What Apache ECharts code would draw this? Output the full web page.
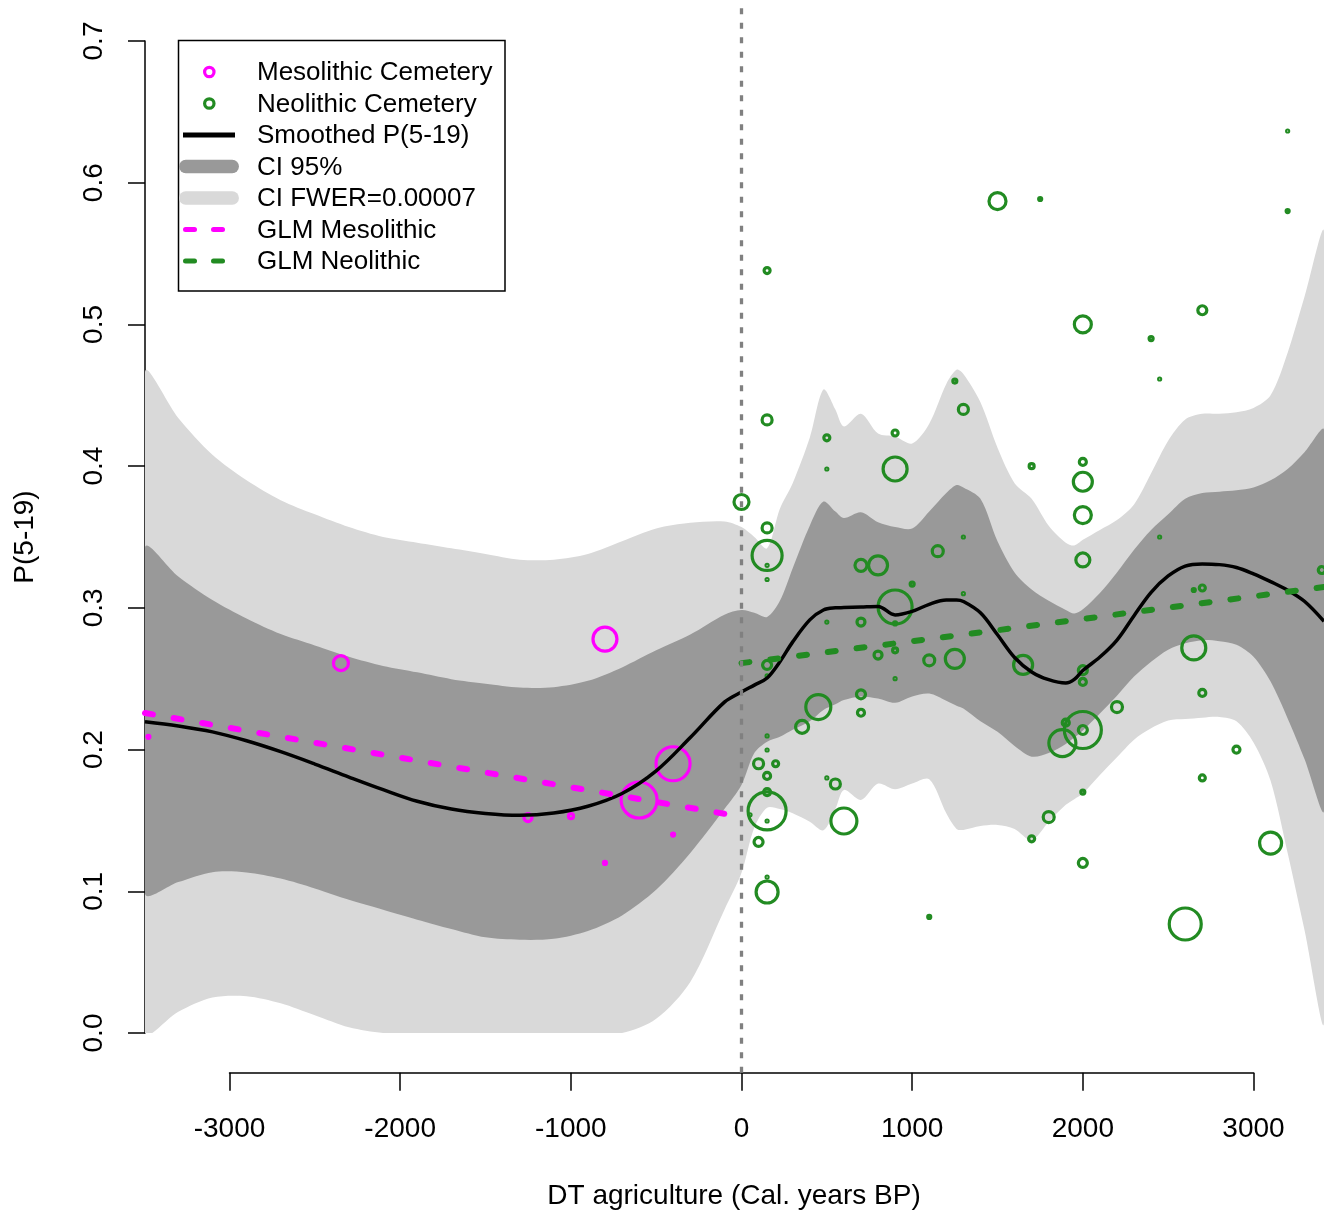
<!DOCTYPE html>
<html>
<head>
<meta charset="utf-8">
<script src="https://cdn.jsdelivr.net/npm/echarts@6/dist/echarts.min.js"></script>
<style>
html,body{margin:0;padding:0;background:#fff;}
#chart{width:1324px;height:1212px;}
</style>
</head>
<body>
<div id="chart"></div>
<script>
// ---------- DATA ----------
const bandX = [-3495, -3300, -3100, -2900, -2700, -2500, -2300, -2100, -1900, -1700, -1500, -1300, -1100, -900, -700, -500, -300, -100, 0,
  75, 150, 225, 300, 400, 480, 550, 600, 700, 800, 900, 1000, 1100, 1200, 1260, 1300, 1400, 1500, 1600, 1700, 1800, 1900, 1950, 2000,
  2100, 2200, 2300, 2400, 2500, 2600, 2700, 2800, 2900, 3000, 3100, 3200, 3300, 3413];

const smoothP = [0.2197, 0.2167, 0.2125, 0.2062, 0.1985, 0.1898, 0.1806, 0.1717, 0.1635, 0.1580, 0.1549, 0.1536, 0.1552, 0.1600, 0.1690, 0.1850, 0.2085, 0.2335, 0.2406,
  0.2455, 0.2505, 0.2620, 0.2760, 0.2915, 0.2985, 0.3000, 0.3002, 0.3006, 0.3010, 0.2950, 0.2975, 0.3025, 0.3055, 0.3055, 0.3045, 0.2965, 0.2810, 0.2650, 0.2548, 0.2493, 0.2470, 0.2495, 0.2558,
  0.2653, 0.2773, 0.2945, 0.3110, 0.3225, 0.3295, 0.3310, 0.3305, 0.3285, 0.3240, 0.3185, 0.3125, 0.3045, 0.2905];

const ci95Upper = [0.3425, 0.3222, 0.3055, 0.2925, 0.2815, 0.2735, 0.2655, 0.2590, 0.2545, 0.2497, 0.2465, 0.2438, 0.2440, 0.2485, 0.2580, 0.2700, 0.2812, 0.2952, 0.2985,
  0.2965, 0.2936, 0.3050, 0.3280, 0.3580, 0.3750, 0.3680, 0.3634, 0.3675, 0.3604, 0.3570, 0.3560, 0.3680, 0.3810, 0.3867, 0.3850, 0.3770, 0.3470, 0.3250, 0.3130, 0.3050, 0.2985, 0.2960, 0.2990,
  0.3105, 0.3250, 0.3410, 0.3550, 0.3660, 0.3770, 0.3810, 0.3820, 0.3830, 0.3850, 0.3900, 0.3980, 0.4100, 0.4255];

const ci95Lower = [0.0984, 0.1065, 0.1135, 0.1133, 0.1090, 0.1020, 0.0940, 0.0870, 0.0800, 0.0734, 0.0675, 0.0658, 0.0665, 0.0720, 0.0830, 0.1010, 0.1270, 0.1580, 0.1750,
  0.1975, 0.2055, 0.2090, 0.2140, 0.2200, 0.2280, 0.2320, 0.2350, 0.2375, 0.2360, 0.2330, 0.2375, 0.2395, 0.2345, 0.2310, 0.2290, 0.2200, 0.2125, 0.2025, 0.1950, 0.1975, 0.2040, 0.2085, 0.2135,
  0.2255, 0.2380, 0.2515, 0.2620, 0.2705, 0.2750, 0.2772, 0.2765, 0.2740, 0.2655, 0.2480, 0.2220, 0.1930, 0.1570];

const fwerUpper = [0.466, 0.434, 0.408, 0.390, 0.376, 0.366, 0.357, 0.350, 0.346, 0.342, 0.338, 0.334, 0.334, 0.338, 0.347, 0.356, 0.360, 0.361, 0.357,
  0.350, 0.342, 0.370, 0.388, 0.420, 0.454, 0.440, 0.428, 0.437, 0.423, 0.421, 0.416, 0.430, 0.458, 0.468, 0.465, 0.445, 0.413, 0.388, 0.377, 0.358, 0.346, 0.344, 0.348,
  0.355, 0.362, 0.373, 0.395, 0.418, 0.433, 0.437, 0.437, 0.438, 0.441, 0.450, 0.480, 0.520, 0.565];

const fwerLower = [0.000, 0.015, 0.025, 0.026, 0.021, 0.0125, 0.004, 0.000, 0.000, 0.000, 0.000, 0.000, 0.000, 0.000, 0.000, 0.010, 0.036, 0.087, 0.113,
  0.145, 0.159, 0.158, 0.155, 0.149, 0.143, 0.158, 0.1715, 0.1644, 0.176, 0.172, 0.176, 0.179, 0.155, 0.144, 0.1433, 0.146, 0.1468, 0.144, 0.136, 0.149, 0.161, 0.165, 0.169,
  0.182, 0.1945, 0.207, 0.215, 0.2205, 0.2215, 0.2225, 0.223, 0.220, 0.205, 0.178, 0.127, 0.072, 0.008];

const glmMesoX = [-3495, -1700, -90];
const glmMesoY = [0.2258, 0.1880, 0.1545];
const glmNeoX = [0, 1500, 3413];
const glmNeoY = [0.2610, 0.2842, 0.3147];

const agricultureOnset = 0;

// Mesolithic cemeteries: x, P(5-19), relative weight (bubble radius units)
const mesoX = [-2347, -800, -401, -600, -1251, -999, -800, -401, -3475];
const mesoY = [0.261, 0.278, 0.190, 0.1644, 0.152, 0.153, 0.120, 0.140, 0.209];
const mesoW = [9, 13.5, 18.5, 19.5, 5.5, 4, 3, 3, 3];

// Neolithic cemeteries
const neoX = [150, 150, 0, 150, 150, 150, 150, 500, 500, 900, 900, 1250, 1300, 700, 800, 1150, 1300, 1000, 1300, 900,
  500, 700, 900, 150, 150, 800, 900, 900, 1100, 1250, 700, 700, 450, 355, 150, 150, 100, 200, 150, 500,
  550, 150, 150, 150, 600, 100, 150, 150, 1100, 50, 1500, 1750, 3200, 3200, 2000, 2700, 2400, 2450, 1700, 2000,
  2000, 2000, 2000, 2450, 2700, 2650, 3400, 1650, 2000, 2000, 2650, 2700, 2200, 2000, 1880, 1900, 2000, 2900, 2700, 2000,
  1800, 1700, 2000, 3100, 2600];
const neoY = [0.538, 0.4326, 0.3747, 0.3564, 0.337, 0.330, 0.320, 0.420, 0.398, 0.4234, 0.398, 0.460, 0.440, 0.330, 0.330, 0.340, 0.350, 0.3168, 0.310, 0.3006,
  0.290, 0.290, 0.289, 0.2597, 0.252, 0.2667, 0.270, 0.250, 0.263, 0.264, 0.239, 0.226, 0.230, 0.216, 0.2096, 0.1997, 0.190, 0.190, 0.1814, 0.180,
  0.1757, 0.170, 0.1567, 0.1496, 0.1496, 0.1348, 0.110, 0.0995, 0.0819, 0.154, 0.587, 0.5885, 0.6365, 0.580, 0.500, 0.510, 0.490, 0.4615, 0.400, 0.403,
  0.389, 0.3655, 0.3338, 0.350, 0.314, 0.3126, 0.3267, 0.2597, 0.256, 0.2477, 0.2717, 0.240, 0.230, 0.2138, 0.2046, 0.219, 0.2138, 0.200, 0.180, 0.170,
  0.1524, 0.137, 0.120, 0.134, 0.0769];
const neoW = [4.5, 6.5, 9, 6.5, 16.5, 2.5, 2.5, 4.5, 2.5, 4.5, 13.5, 3.5, 6.5, 7.5, 11, 7, 2.5, 3.5, 2.5, 18.5,
  2.5, 5.5, 3, 6, 2.5, 5.5, 4, 2.5, 7, 11, 6, 5, 14, 8, 2.5, 2.5, 6.5, 4.5, 5, 2.5,
  6.5, 5, 20.5, 2.5, 14.5, 6, 2.5, 12.5, 3, 2.5, 10, 3, 2.5, 3, 10, 6, 3.5, 2.5, 4, 5,
  11, 10, 8.5, 2.5, 4.5, 3, 5, 11, 6, 5, 13.5, 5, 7, 20, 15, 5, 6, 5, 4.5, 3.5,
  7, 4.5, 6, 12.5, 17.5];

const legendLabels = ['Mesolithic Cemetery', 'Neolithic Cemetery', 'Smoothed P(5-19)', 'CI 95%', 'CI FWER=0.00007', 'GLM Mesolithic', 'GLM Neolithic'];
const xTitle = 'DT agriculture (Cal. years BP)';
const yTitle = 'P(5-19)';

// ---------- STYLE ----------
const FONT = '"Liberation Sans", Arial, Helvetica, sans-serif';
const MAGENTA = '#FF00FF';
const GREEN = '#228B22';
const DARK = '#999999';
const LIGHT = '#D9D9D9';

function bandSeries(name, upper, lower, color) {
  return {
    name: name, type: 'custom', xAxisIndex: 0, yAxisIndex: 0, silent: true, clip: true,
    data: [[bandX[0], lower[0]]],
    renderItem: function (params, api) {
      const pts = [];
      for (let i = 0; i < bandX.length; i++) pts.push(api.coord([bandX[i], upper[i]]));
      for (let i = bandX.length - 1; i >= 0; i--) pts.push(api.coord([bandX[i], lower[i]]));
      return { type: 'polygon', shape: { points: pts, smooth: 0.3 }, style: { fill: color, stroke: null } };
    }
  };
}

const bubbleSize = function (d) { return Math.max(2 * d[2] - 3, 1.5); };

const rowY = i => 73 + i * 31.5;
const legendEls = [
  { type: 'rect', z: 100, shape: { x: 178.5, y: 40.5, width: 326.5, height: 250.5 }, style: { fill: '#fff', stroke: '#000', lineWidth: 1.5 } },
  { type: 'circle', z: 101, shape: { cx: 209.3, cy: rowY(0) - 1, r: 4.7 }, style: { fill: 'none', stroke: MAGENTA, lineWidth: 3.2 } },
  { type: 'circle', z: 101, shape: { cx: 209.3, cy: rowY(1) - 1, r: 4.7 }, style: { fill: 'none', stroke: GREEN, lineWidth: 3.2 } },
  { type: 'line', z: 101, shape: { x1: 183, y1: rowY(2) - 1, x2: 235, y2: rowY(2) - 1 }, style: { stroke: '#000', lineWidth: 5 } },
  { type: 'line', z: 101, shape: { x1: 185.7, y1: rowY(3) - 1, x2: 232.3, y2: rowY(3) - 1 }, style: { stroke: DARK, lineWidth: 13.3, lineCap: 'round' } },
  { type: 'line', z: 101, shape: { x1: 185.7, y1: rowY(4) - 1, x2: 232.3, y2: rowY(4) - 1 }, style: { stroke: LIGHT, lineWidth: 13.3, lineCap: 'round' } },
  { type: 'line', z: 101, shape: { x1: 185.5, y1: rowY(5) - 1, x2: 194.5, y2: rowY(5) - 1 }, style: { stroke: MAGENTA, lineWidth: 5, lineCap: 'round' } },
  { type: 'line', z: 101, shape: { x1: 213.5, y1: rowY(5) - 1, x2: 222.5, y2: rowY(5) - 1 }, style: { stroke: MAGENTA, lineWidth: 5, lineCap: 'round' } },
  { type: 'line', z: 101, shape: { x1: 185.5, y1: rowY(6) - 1, x2: 194.5, y2: rowY(6) - 1 }, style: { stroke: GREEN, lineWidth: 5, lineCap: 'round' } },
  { type: 'line', z: 101, shape: { x1: 213.5, y1: rowY(6) - 1, x2: 222.5, y2: rowY(6) - 1 }, style: { stroke: GREEN, lineWidth: 5, lineCap: 'round' } },
  // x-axis title, centred under the plotting region
  { type: 'text', z: 101, x: 734, y: 1196,
    style: { text: xTitle, fontSize: 28, fontFamily: FONT, fill: '#000', align: 'center', verticalAlign: 'middle' } }
];
legendLabels.forEach((t, i) => {
  legendEls.push({ type: 'text', z: 101, x: 257, y: rowY(i),
    style: { text: t, fontSize: 26, fontFamily: FONT, fill: '#000', align: 'left', verticalAlign: 'middle' } });
});

const axisText = { fontSize: 28, color: '#000', fontFamily: FONT };
const hiddenParts = { axisLine: { show: false, onZero: false }, axisTick: { show: false }, axisLabel: { show: false }, splitLine: { show: false } };

const option = {
  backgroundColor: '#ffffff',
  animation: false,
  grid: [
    { left: 145, top: 41, width: 1179, height: 992, outerBoundsMode: 'none', containLabel: false },       // data grid, y 0..0.7
    { left: 145, top: 1.3, width: 1179, height: 1071.4, outerBoundsMode: 'none', containLabel: false },   // full plot region
    { left: 229.5, top: 1071.7, width: 1024, height: 1, outerBoundsMode: 'none', containLabel: false }    // R-style x axis
  ],
  xAxis: [
    Object.assign({ gridIndex: 0, type: 'value', min: -3495, max: 3413 }, hiddenParts),
    { gridIndex: 1, type: 'value', min: -3495, max: 3413, show: false },
    { gridIndex: 2, type: 'value', min: -3000, max: 3000, interval: 1000,
      axisLine: { show: true, onZero: false, lineStyle: { color: '#000', width: 1.5 } },
      axisTick: { show: true, length: 18, lineStyle: { color: '#000', width: 1.5 } },
      axisLabel: Object.assign({ margin: 43, showMinLabel: true, showMaxLabel: true, formatter: v => String(v) }, axisText),
      splitLine: { show: false } }
  ],
  yAxis: [
    { gridIndex: 0, type: 'value', min: 0, max: 0.7, interval: 0.1,
      name: yTitle, nameLocation: 'middle', nameGap: 106, nameTextStyle: axisText,
      axisLine: { show: true, onZero: false, lineStyle: { color: '#000', width: 1.5 } },
      axisTick: { show: true, length: 17, lineStyle: { color: '#000', width: 1.5 } },
      axisLabel: Object.assign({ rotate: 90, margin: 37, showMinLabel: true, showMaxLabel: true, formatter: v => v.toFixed(1) }, axisText),
      splitLine: { show: false } },
    { gridIndex: 1, type: 'value', min: -0.028, max: 0.728, show: false },
    { gridIndex: 2, type: 'value', min: 0, max: 1, show: false }
  ],
  graphic: { elements: legendEls },
  series: [
    bandSeries('CI FWER=0.00007', fwerUpper, fwerLower, LIGHT),
    bandSeries('CI 95%', ci95Upper, ci95Lower, DARK),
    {
      name: 'Agriculture onset', type: 'line', xAxisIndex: 1, yAxisIndex: 1, data: [], silent: true,
      markLine: { silent: true, symbol: ['none', 'none'], label: { show: false },
        lineStyle: { color: '#808080', width: 3.3, type: [6, 8.5] },
        data: [{ xAxis: agricultureOnset }] }
    },
    {
      name: 'Mesolithic Cemetery', type: 'scatter', xAxisIndex: 0, yAxisIndex: 0,
      data: mesoX.map((x, i) => [x, mesoY[i], mesoW[i]]),
      symbol: 'circle', symbolSize: bubbleSize, clip: true,
      itemStyle: { color: 'rgba(0,0,0,0)', borderColor: MAGENTA, borderWidth: 3.2, opacity: 1 }
    },
    {
      name: 'Neolithic Cemetery', type: 'scatter', xAxisIndex: 0, yAxisIndex: 0,
      data: neoX.map((x, i) => [x, neoY[i], neoW[i]]),
      symbol: 'circle', symbolSize: bubbleSize, clip: true,
      itemStyle: { color: 'rgba(0,0,0,0)', borderColor: GREEN, borderWidth: 3.2, opacity: 1 }
    },
    {
      name: 'Smoothed P(5-19)', type: 'line', xAxisIndex: 0, yAxisIndex: 0,
      data: bandX.map((x, i) => [x, smoothP[i]]), showSymbol: false, smooth: 0.35,
      lineStyle: { color: '#000', width: 3.5 }
    },
    {
      name: 'GLM Mesolithic', type: 'line', xAxisIndex: 0, yAxisIndex: 0,
      data: glmMesoX.map((x, i) => [x, glmMesoY[i]]), showSymbol: false,
      lineStyle: { color: MAGENTA, width: 6, type: [8, 21], cap: 'round' }
    },
    {
      name: 'GLM Neolithic', type: 'line', xAxisIndex: 0, yAxisIndex: 0,
      data: glmNeoX.map((x, i) => [x, glmNeoY[i]]), showSymbol: false,
      lineStyle: { color: GREEN, width: 6, type: [8, 21], cap: 'round' }
    }
  ]
};

const chart = echarts.init(document.getElementById('chart'), null, { renderer: 'canvas' });
chart.setOption(option);
</script>
</body>
</html>
